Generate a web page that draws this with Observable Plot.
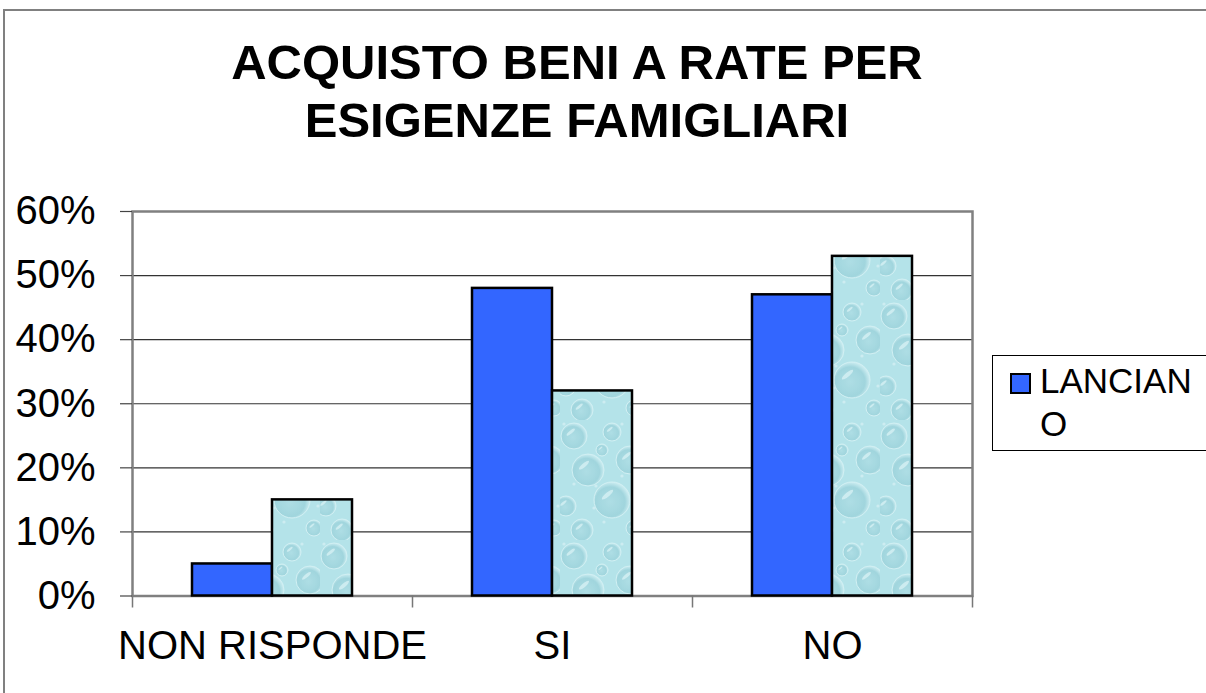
<!DOCTYPE html>
<html>
<head>
<meta charset="utf-8">
<script src="https://cdn.jsdelivr.net/npm/d3@7"></script>
<script src="https://cdn.jsdelivr.net/npm/@observablehq/plot@0.6"></script>
<style>
  html, body { margin: 0; padding: 0; background: #fff; overflow: hidden; }
  #wrap { position: relative; width: 1206px; height: 693px; overflow: hidden; font-family: "Liberation Sans", Arial, sans-serif; }
  #outer { position: absolute; left: 3px; top: 9px; width: 1300px; height: 800px; border-top: 2px solid #808080; border-left: 2px solid #808080; }
  #title { position: absolute; left: 0; top: 0; width: 1154px; height: 180px; text-align: center; font-weight: bold; font-size: 49px; line-height: 58px; padding-top: 33px; box-sizing: border-box; color: #000; }
  #chart { position: absolute; left: 0; top: 180px; }
  #legend { position: absolute; left: 992px; top: 355px; width: 260px; height: 96px; border: 1px solid #000; background: #fff; box-sizing: border-box; }
  .sw { position: absolute; left: 17px; top: 17px; width: 21px; height: 21px; box-sizing: border-box; border: 2px solid #000; }
  .lt { position: absolute; left: 47px; top: 3px; width: 165px; font-size: 35px; line-height: 43px; word-break: break-all; color: #000; }
</style>
</head>
<body>
<div id="wrap">
  <div id="outer"></div>
  <div id="title"></div>
  <div id="chart"></div>
  <div id="legend"></div>
</div>
<script>
const titleLines = ["ACQUISTO BENI A RATE PER", "ESIGENZE FAMIGLIARI"];
const categories = ["NON RISPONDE", "SI", "NO"];
const seriesNames = ["LANCIANO", "ALTRO"];
const lanciano = [5, 48, 47];
const altro = [15, 32, 53];
const yTicks = [0, 10, 20, 30, 40, 50, 60];
const colors = ["#3366FF", "url(#water)"];

document.getElementById("title").innerHTML = titleLines.join("<br>");

const d1 = categories.map((c, i) => ({cat: c, v: lanciano[i]}));
const d2 = categories.map((c, i) => ({cat: c, v: altro[i]}));

const W = 1206, H = 513, ML = 132, MR = 234;
const band = (W - ML - MR) / categories.length;
const barW = band * 2 / 7;
const gap = band * 1.5 / 7;

const chart = Plot.plot({
  width: W, height: H,
  marginLeft: ML, marginRight: MR, marginTop: 31, marginBottom: 97.5,
  style: {fontFamily: "'Liberation Sans', Arial, sans-serif", fontSize: "40px", background: "transparent", color: "#000", overflow: "visible"},
  x: {domain: categories, padding: 0, axis: null, label: null},
  y: {domain: [0, 60], axis: null, label: null},
  marks: [
    Plot.gridY(yTicks, {stroke: "#333", strokeOpacity: 1, strokeWidth: 1.2}),
    Plot.frame({stroke: "#808080", strokeWidth: 2.5}),
    Plot.barY(d1, {x: "cat", y: "v", fill: colors[0], stroke: "#000", strokeWidth: 2.5, insetLeft: gap, insetRight: band - gap - barW}),
    Plot.barY(d2, {x: "cat", y: "v", fill: colors[1], stroke: "#000", strokeWidth: 2.5, insetLeft: gap + barW, insetRight: band - gap - 2 * barW}),
    Plot.ruleY([0], {stroke: "#000", strokeWidth: 1.5, x1: null}),
    Plot.axisY({ticks: yTicks, tickSize: 12, tickPadding: 25, tickFormat: d => d + "%", stroke: "#444", strokeWidth: 1.2, fontSize: 40, label: null}),
    Plot.axisX({tickSize: 0, tickPadding: 34.5, fontSize: 40, label: null}),
    Plot.axisX({ticks: categories, tickSize: 12, tickFormat: () => "", stroke: "#777", strokeWidth: 1.5, dx: -band / 2, label: null}),
    Plot.axisX({ticks: [categories[categories.length - 1]], tickSize: 12, tickFormat: () => "", stroke: "#777", strokeWidth: 1.5, dx: band / 2, label: null})
  ]
});

// water-drop texture for the second series
const svg = d3.select(chart);
const defs = svg.insert("defs", ":first-child");
const rg = defs.append("radialGradient").attr("id", "drop").attr("cx", "45%").attr("cy", "55%").attr("r", "55%");
rg.append("stop").attr("offset", "0%").attr("stop-color", "#addde4");
rg.append("stop").attr("offset", "75%").attr("stop-color", "#9dd3db");
rg.append("stop").attr("offset", "100%").attr("stop-color", "#cfeef2");
const pat = defs.append("pattern").attr("id", "water").attr("patternUnits", "userSpaceOnUse")
  .attr("width", 80).attr("height", 120);
pat.append("rect").attr("width", 80).attr("height", 120).attr("fill", "#b4e3e9");
const drops = [[14, 16, 13], [52, 12, 9], [70, 40, 14], [28, 50, 16], [6, 86, 10], [52, 80, 18], [22, 110, 11], [74, 108, 8], [42, 30, 6]];
drops.forEach(([cx, cy, r]) => {
  pat.append("circle").attr("cx", cx).attr("cy", cy).attr("r", r).attr("fill", "url(#drop)").attr("stroke", "#d6f1f4").attr("stroke-width", 1).attr("opacity", 0.85);
  pat.append("ellipse").attr("cx", cx - r * 0.25).attr("cy", cy - r * 0.3).attr("rx", r * 0.4).attr("ry", r * 0.12)
    .attr("transform", `rotate(-40 ${cx - r * 0.25} ${cy - r * 0.3})`).attr("fill", "#e6f8fa").attr("opacity", 0.6);
});
[[4, 4], [36, 66], [62, 4], [14, 64], [44, 102], [78, 86], [34, 88], [62, 56]].forEach(([x, y]) => {
  pat.append("circle").attr("cx", x).attr("cy", y).attr("r", 1.6).attr("fill", "#d3eff3").attr("opacity", 0.8);
});

document.getElementById("chart").appendChild(chart);

// legend (only the first entry is visible in the reference, the box is cut at the edge)
const lg = d3.select("#legend");
lg.append("div").attr("class", "sw").style("background", colors[0]);
lg.append("div").attr("class", "lt").text(seriesNames[0]);
</script>
</body>
</html>
